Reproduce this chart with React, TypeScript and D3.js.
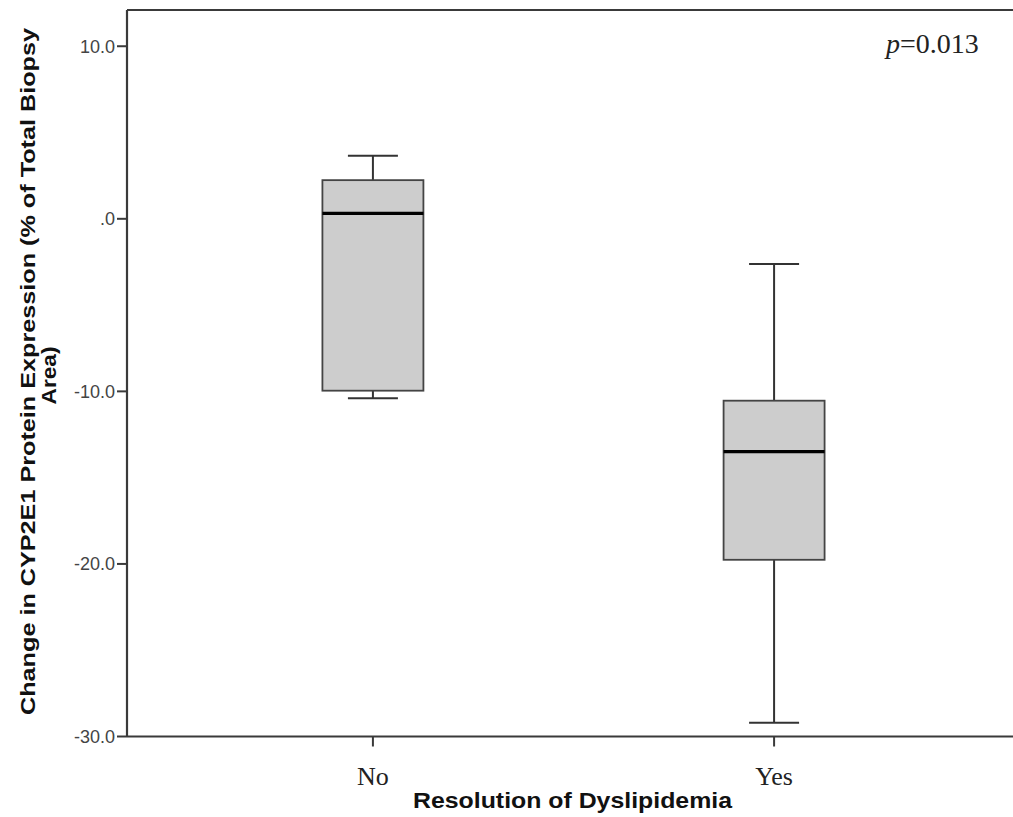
import React from "react";
import * as d3 from "d3";

const categories = ["No", "Yes"];
const whiskerHigh = [3.65, -2.62];
const q3 = [2.24, -10.54];
const medians = [0.31, -13.49];
const q1 = [-9.96, -19.76];
const whiskerLow = [-10.4, -29.2];
const yTicks = [10, 0, -10, -20, -30];
const yTickLabels = ["10.0", ".0", "-10.0", "-20.0", "-30.0"];

const W = 1013;
const H = 817;
const left = 127;
const top = 10;
const bottom = 736.5;
const right = 1020;

export default function App() {
  const y = d3.scaleLinear().domain([-30, 12.1]).range([bottom, top]);
  const x = d3.scalePoint<string>().domain(categories).range([left, right]).padding(0.613);
  const boxW = 101;
  const capW = 50;
  const sans = "'Liberation Sans', Arial, sans-serif";
  const serif = "'Liberation Serif', 'Times New Roman', serif";
  return (
    <svg width={W} height={H} style={{ position: "absolute", left: 0, top: 0, background: "#fff" }}>
      {/* frame */}
      <line x1={left} x2={W + 5} y1={top} y2={top} stroke="#3a3a3a" strokeWidth={2.2} />
      <line x1={left} x2={W + 5} y1={bottom} y2={bottom} stroke="#3a3a3a" strokeWidth={2.2} />
      <line x1={left} x2={left} y1={top} y2={bottom} stroke="#3a3a3a" strokeWidth={2.2} />
      {/* y ticks */}
      {yTicks.map((t, i) => (
        <g key={t}>
          <line x1={left - 10} x2={left} y1={y(t)} y2={y(t)} stroke="#3a3a3a" strokeWidth={2} />
          <text x={left - 12} y={y(t)} dy="0.36em" textAnchor="end" fontFamily={sans} fontSize={18} fill="#444">
            {yTickLabels[i]}
          </text>
        </g>
      ))}
      {/* x ticks */}
      {categories.map((c) => (
        <g key={c}>
          <line x1={x(c)} x2={x(c)} y1={bottom} y2={bottom + 10} stroke="#3a3a3a" strokeWidth={2} />
          <text x={x(c)} y={785} textAnchor="middle" fontFamily={serif} fontSize={26} fill="#222">
            {c}
          </text>
        </g>
      ))}
      {/* boxes */}
      {categories.map((c, i) => {
        const cx = x(c) as number;
        return (
          <g key={c}>
            <line x1={cx} x2={cx} y1={y(whiskerHigh[i])} y2={y(q3[i])} stroke="#333" strokeWidth={2} />
            <line x1={cx} x2={cx} y1={y(q1[i])} y2={y(whiskerLow[i])} stroke="#333" strokeWidth={2} />
            <line x1={cx - capW / 2} x2={cx + capW / 2} y1={y(whiskerHigh[i])} y2={y(whiskerHigh[i])} stroke="#333" strokeWidth={2} />
            <line x1={cx - capW / 2} x2={cx + capW / 2} y1={y(whiskerLow[i])} y2={y(whiskerLow[i])} stroke="#333" strokeWidth={2} />
            <rect x={cx - boxW / 2} y={y(q3[i])} width={boxW} height={y(q1[i]) - y(q3[i])} fill="#cdcdcd" stroke="#444" strokeWidth={1.8} />
            <line x1={cx - boxW / 2} x2={cx + boxW / 2} y1={y(medians[i])} y2={y(medians[i])} stroke="#000" strokeWidth={3.2} />
          </g>
        );
      })}
      {/* p value */}
      <text x={886} y={53} fontFamily={serif} fontSize={28} fill="#222">
        <tspan fontStyle="italic">p</tspan>=0.013
      </text>
      {/* x title */}
      <text x={572.5} y={808} textAnchor="middle" fontFamily={sans} fontWeight="bold" fontSize={22} fill="#111" textLength={319} lengthAdjust="spacingAndGlyphs">
        Resolution of Dyslipidemia
      </text>
      {/* y title */}
      <g transform="translate(35,371.5) rotate(-90)">
        <text x={0} y={0} textAnchor="middle" fontFamily={sans} fontWeight="bold" fontSize={21} fill="#111" textLength={687} lengthAdjust="spacingAndGlyphs">
          Change in CYP2E1 Protein Expression (% of Total Biopsy
        </text>
        <text x={-4} y={21} textAnchor="middle" fontFamily={sans} fontWeight="bold" fontSize={21} fill="#111" textLength={58} lengthAdjust="spacingAndGlyphs">
          Area)
        </text>
      </g>
    </svg>
  );
}
